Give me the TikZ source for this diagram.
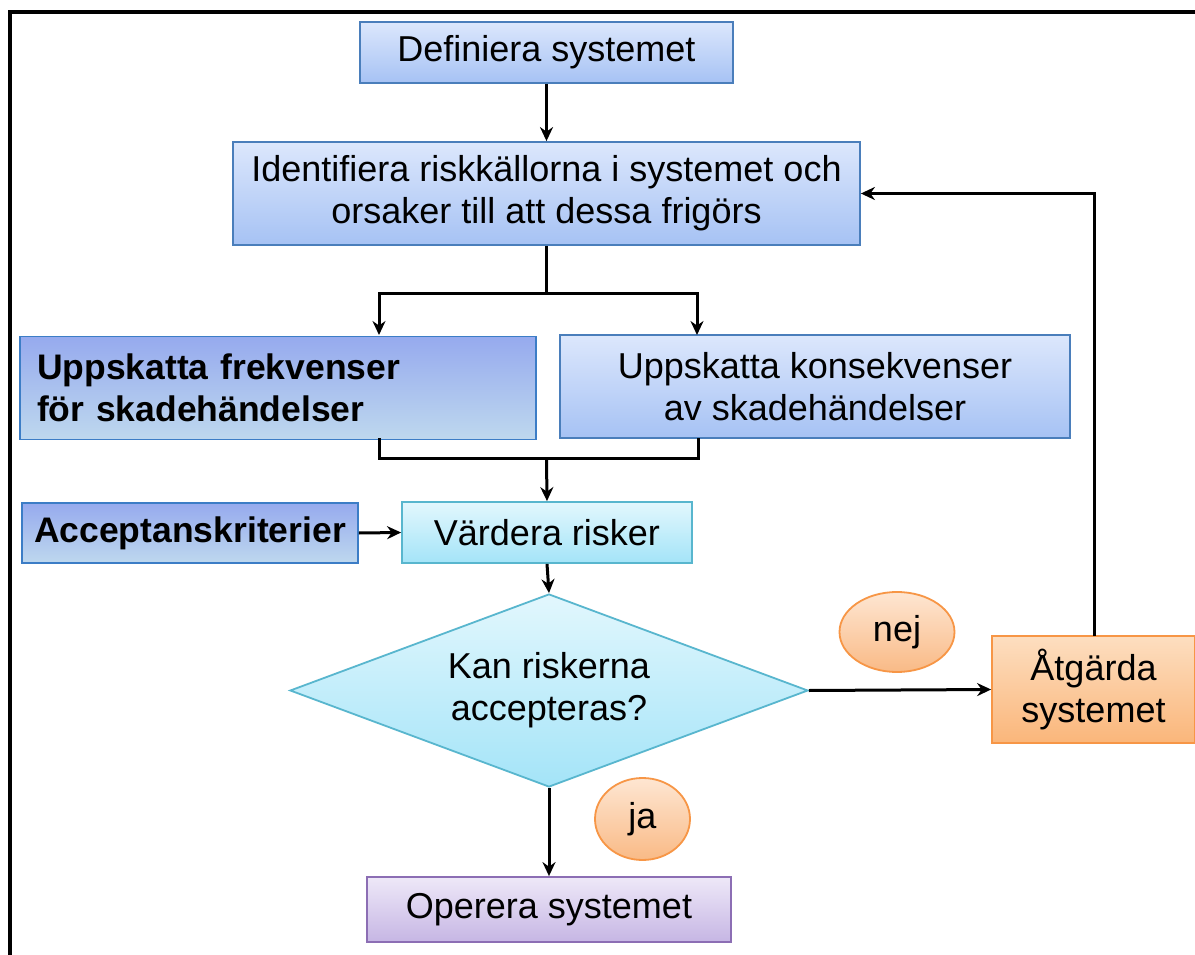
\documentclass[tikz,border=0pt]{standalone}
\usepackage{fontspec}
\setmainfont{Liberation Sans}
\usetikzlibrary{shapes.geometric,arrows.meta}
\definecolor{bluebd}{RGB}{74,126,187}
\definecolor{bluetop}{RGB}{220,231,252}
\definecolor{bluebot}{RGB}{166,194,244}
\definecolor{dtop}{RGB}{150,170,238}
\definecolor{dbot}{RGB}{190,216,238}
\definecolor{dbd}{RGB}{60,125,198}
\definecolor{cbd}{RGB}{88,182,206}
\definecolor{ctop}{RGB}{226,247,253}
\definecolor{cbot}{RGB}{164,228,248}
\definecolor{obd}{RGB}{247,150,70}
\definecolor{otop}{RGB}{253,222,192}
\definecolor{obot}{RGB}{250,182,122}
\definecolor{ltop}{RGB}{254,230,210}
\definecolor{lbot}{RGB}{249,186,134}
\definecolor{pbd}{RGB}{140,110,180}
\definecolor{ptop}{RGB}{238,232,248}
\definecolor{pbot}{RGB}{198,182,228}
\begin{document}
\begin{tikzpicture}[x=1pt,y=-1pt,
  txt/.style={font=\fontsize{36}{42}\selectfont, text=black},
  box/.style={txt, rectangle, draw, line width=1.8pt, inner sep=0pt, align=center},
  bluebox/.style={box, draw=bluebd, top color=bluetop, bottom color=bluebot},
  darkbox/.style={box, draw=dbd, top color=dtop, bottom color=dbot},
  cyanbox/.style={box, draw=cbd, top color=ctop, bottom color=cbot},
  orangebox/.style={box, draw=obd, top color=otop, bottom color=obot},
  lbl/.style={txt, ellipse, draw=obd, line width=1.8pt, inner sep=0pt, top color=ltop, bottom color=lbot},
  conn/.style={line width=3pt, black},
  arr/.style={conn, -{Stealth[length=14pt,width=13pt]}}
]
\useasboundingbox (0,0) rectangle (1195,955);
\fill[white] (0,0) rectangle (1195,955);
% frame
\coordinate (fbl) at (10,960);
\coordinate (ftl) at (10,12);
\coordinate (ftr) at (1200,12);
\draw[line width=3.5pt] (fbl) -- (ftl) -- (ftr);

\node[bluebox, minimum width=373, minimum height=61] (def) at (546.5,52.5) {Definiera systemet};
\node[bluebox, minimum width=627, minimum height=103] (ident) at (546.5,193.5) {Identifiera riskkällorna i systemet och\\orsaker till att dessa frigörs};
\node[darkbox, minimum width=516, minimum height=103, align=left, text width=482pt, inner xsep=17pt, font=\fontsize{35.5}{42}\selectfont\bfseries] (frek) at (278,388) {Uppskatta frekvenser\\för skadehändelser};
\node[bluebox, minimum width=510, minimum height=103] (kons) at (815,386.5) {Uppskatta konsekvenser\\av skadehändelser};
\node[darkbox, minimum width=336, minimum height=60, font=\fontsize{35.5}{42}\selectfont\bfseries] (acc) at (190,533) {Acceptanskriterier};
\node[cyanbox, minimum width=290, minimum height=61] (vard) at (547,532.5) {Värdera risker};
\node[cyanbox, diamond, aspect=2.68, minimum width=518, minimum height=193] (dia) at (549,690.5) {Kan riskerna\\accepteras?};
\node[orangebox, minimum width=203, minimum height=107] (atg) at (1093.5,689.5) {Åtgärda\\systemet};
\node[lbl, minimum width=115, minimum height=80] (nej) at (897,632) {nej};
\node[lbl, minimum width=95, minimum height=82] (ja) at (642.5,819) {ja};
\node[box, draw=pbd, top color=ptop, bottom color=pbot, minimum width=364, minimum height=65] (oper) at (549,909.5) {Operera systemet};

% connectors
\coordinate (split) at (546.5,293);
\coordinate (join) at (546.5,458);
\coordinate (fin) at (379,335);
\coordinate (kin) at (697,335);
\coordinate (fout) at (379,438);
\coordinate (kout) at (698,438);
\coordinate (back) at (1094,636);
\draw[arr] (def.south) -- (ident.north);
\draw[conn] (ident.south) -- (split);
\draw[arr] (split) -| (fin);
\draw[arr] (split) -| (kin);
\draw[conn] (fout) |- (join);
\draw[conn] (join) -| (kout);
\draw[arr] (join) -- (vard.north);
\draw[arr] (acc.east) -- (vard.west);
\draw[arr] (vard.south) -- (dia.north);
\draw[arr] (dia.south) -- (oper.north);
\draw[arr] (dia.east) -- (atg.west);
\draw[arr] (back) |- (ident.east);
\end{tikzpicture}
\end{document}
